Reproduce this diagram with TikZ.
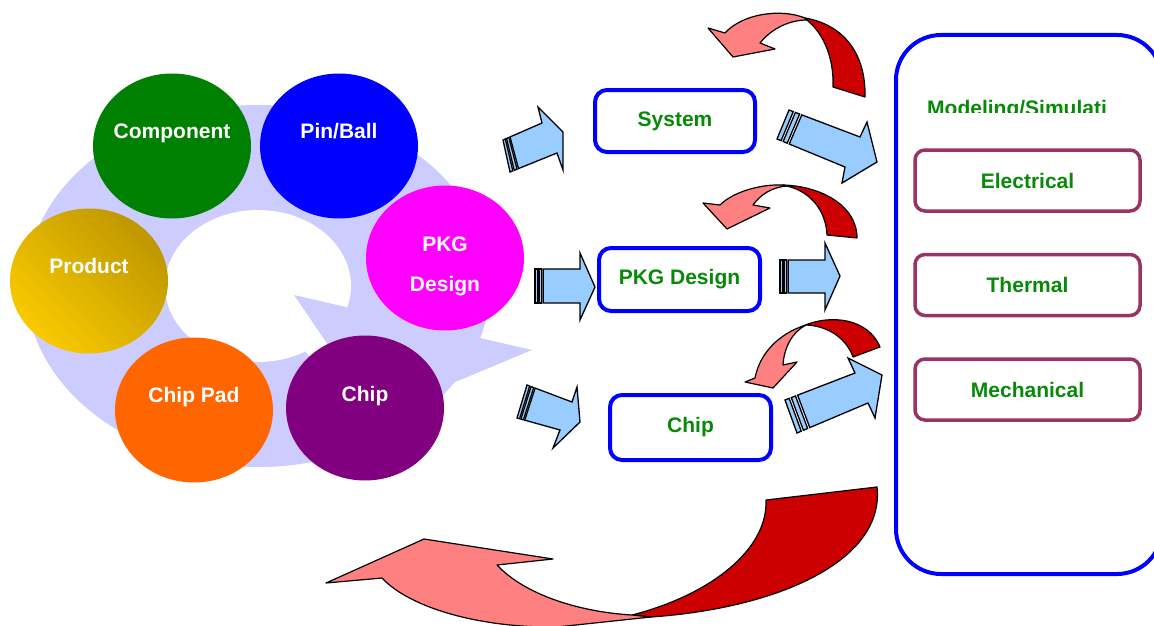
\documentclass[tikz,border=0pt]{standalone}
\usepackage{fontspec}
\setmainfont{Liberation Sans}
\usetikzlibrary{calc,shapes.geometric}

\definecolor{ringfill}{HTML}{CCCCFF}
\definecolor{arrowblue}{HTML}{99CCFF}
\definecolor{curvepink}{HTML}{FF8080}
\definecolor{curvedark}{HTML}{CC0000}
\definecolor{framepurple}{HTML}{993366}
\definecolor{labelgreen}{HTML}{078A07}
\definecolor{compgreen}{HTML}{008000}
\definecolor{pinblue}{HTML}{0000FF}
\definecolor{pkgmagenta}{HTML}{FF00FF}
\definecolor{chippurple}{HTML}{800080}
\definecolor{padorange}{HTML}{FF6600}
\definecolor{prodlight}{HTML}{F9CA00}
\definecolor{proddark}{HTML}{BE9700}

% block arrow with two stripes at its tail; #1 is the prefix of its seven corner coordinates
\newcommand\stripedarrow[1]{%
  \draw[arrowbody] ($(#1tt)!0.18!(#1ht)$) -- (#1ht) -- (#1bt) -- (#1p) -- (#1bb) -- (#1hb)
    -- ($(#1tb)!0.18!(#1hb)$) -- cycle;
  \draw[arrowbody] (#1tt) -- ($(#1tt)!0.06!(#1ht)$) -- ($(#1tb)!0.06!(#1hb)$) -- (#1tb) -- cycle;
  \draw[arrowbody] ($(#1tt)!0.09!(#1ht)$) -- ($(#1tt)!0.15!(#1ht)$)
    -- ($(#1tb)!0.15!(#1hb)$) -- ($(#1tb)!0.09!(#1hb)$) -- cycle;
}

\begin{document}
\begin{tikzpicture}[x=1pt,y=-1pt,
  bubble/.style={ellipse, minimum width=158pt, minimum height=145pt, inner sep=0pt, draw=none},
  bubtext/.style={anchor=base, text=white, font=\fontsize{21}{25}\selectfont\bfseries},
  stagebox/.style={draw=pinblue, line width=4pt, rounded corners=12pt, fill=white,
    text=labelgreen, font=\fontsize{21}{25}\selectfont\bfseries, inner sep=0pt},
  bigbox/.style={draw=pinblue, line width=4pt, rounded corners=45pt, inner sep=0pt,
    minimum width=266pt, minimum height=539pt},
  kindbox/.style={draw=framepurple, line width=3.5pt, rounded corners=10pt,
    minimum width=225pt, minimum height=61pt, inner sep=0pt,
    text=labelgreen, font=\fontsize{21}{25}\selectfont\bfseries},
  arrowbody/.style={fill=arrowblue, draw=black, line width=1.3pt, line join=miter},
  curvefront/.style={fill=curvepink, draw=black, line width=1.2pt, line join=round},
  curveback/.style={fill=curvedark, draw=black, line width=1.2pt, line join=round},
]
\useasboundingbox (0,0) rectangle (1154,626);

% circular arrow behind the bubbles
\fill[ringfill] (258,286) ellipse [x radius=232pt, y radius=181pt];
\fill[white] (258,286) ellipse [x radius=93pt, y radius=76pt];
\fill[white] (294,295) -- (376,415) -- (385,466) -- (306,352) -- cycle;
\fill[ringfill] (294,295) -- (532,350) -- (376,415) -- cycle;

% bubbles
\node[bubble, fill=compgreen] (comp) at (172,146) {};
\node[bubble, fill=pinblue] (pin) at (339,146) {};
\node[bubble, fill=pkgmagenta] (pkg) at (445,258) {};
\node[bubble, top color=proddark, bottom color=prodlight, shading angle=-45] (prod) at (89,281) {};
\node[bubble, fill=padorange] (pad) at (194,410) {};
\node[bubble, fill=chippurple] (chip) at (365,408) {};

\node[bubtext] (comp-t) at (172,138) {Component};
\node[bubtext] (pin-t) at (339,138) {Pin/Ball};
\node[bubtext] (pkg-t1) at (445,251) {PKG};
\node[bubtext] (pkg-t2) at (445,291) {Design};
\node[bubtext] (prod-t) at (89,273) {Product};
\node[bubtext] (pad-t) at (194,402) {Chip Pad};
\node[bubtext] (chip-t) at (365,401) {Chip};

% stage boxes
\node[stagebox, minimum width=160pt, minimum height=62pt] (sys) at (675,121) {System};
\node[stagebox, minimum width=161pt, minimum height=63pt] (pkgd) at (679.5,279.5) {PKG Design};
\node[stagebox, minimum width=161pt, minimum height=65pt] (chipb) at (690.5,427.5) {Chip};

% modeling frame
\node[bigbox] (model) at (1029,304.5) {};
\begin{scope}
  \clip (900,60) rectangle (1150,112);
  \node[anchor=base west, inner sep=0pt, text=labelgreen,
    font=\fontsize{21}{25}\selectfont\bfseries] (model-t) at (927,115) {Modeling/Simulati};
\end{scope}
\node[kindbox] (elec) at (1027.5,180.5) {Electrical};
\node[kindbox] (therm) at (1027.5,285) {Thermal};
\node[kindbox] (mech) at (1027.5,389.5) {Mechanical};

% curved feedback arrows
\draw[curveback] (805,18) .. controls (845,25) and (866,55) .. (865,97) -- (833,87)
  .. controls (834,60) and (825,35) .. (807,20) -- cycle;
\draw[curvefront] (805,18) .. controls (780,8) and (742,14) .. (725,33) -- (708,28) -- (733,57)
  -- (775,49) -- (760,43) .. controls (772,28) and (790,20) .. (807,20) -- cycle;

\draw[curveback] (783,185) .. controls (820,186) and (857,205) .. (857,238) -- (827,235)
  .. controls (826,212) and (812,192) .. (787,186) -- cycle;
\draw[curvefront] (783,185) .. controls (760,184) and (733,192) .. (720,205) -- (703,203)
  -- (727,229) -- (770,208) -- (753,205) .. controls (760,195) and (772,187) .. (787,186) -- cycle;

\draw[curveback] (803,326) .. controls (830,314) and (868,318) .. (880,347) -- (853,357)
  .. controls (847,340) and (830,326) .. (806,325) -- cycle;
\draw[curvefront] (803,326) .. controls (780,334) and (760,352) .. (755,378) -- (745,382)
  -- (773,388) -- (797,362) -- (783,365) .. controls (784,348) and (792,332) .. (806,325) -- cycle;

\draw[curveback] (632,615) .. controls (710,595) and (768,550) .. (766,500) -- (877,487)
  .. controls (885,560) and (780,608) .. (651,617) -- cycle;
\draw[curvefront] (651,617) -- (557,627) .. controls (480,628) and (410,608) .. (382,578)
  -- (326,583) -- (424,539) -- (553,559) -- (497,565)
  .. controls (525,595) and (580,612) .. (632,615) -- cycle;

% striped block arrows
\coordinate (att) at (503,140); \coordinate (atb) at (510,172);
\coordinate (aht) at (542,123); \coordinate (ahb) at (557,153);
\coordinate (abt) at (538,107); \coordinate (ap) at (563,132); \coordinate (abb) at (563,170);
\stripedarrow{a}

\coordinate (btt) at (789,110); \coordinate (btb) at (777,139);
\coordinate (bht) at (860,137); \coordinate (bhb) at (845,167);
\coordinate (bbt) at (867,122); \coordinate (bp) at (877,162); \coordinate (bbb) at (842,183);
\stripedarrow{b}

\coordinate (ctt) at (535,269); \coordinate (ctb) at (535,303);
\coordinate (cht) at (580,269); \coordinate (chb) at (580,303);
\coordinate (cbt) at (580,253); \coordinate (cp) at (595,287); \coordinate (cbb) at (580,320);
\stripedarrow{c}

\coordinate (dtt) at (780,260); \coordinate (dtb) at (780,293);
\coordinate (dht) at (825,260); \coordinate (dhb) at (825,293);
\coordinate (dbt) at (825,243); \coordinate (dp) at (840,276); \coordinate (dbb) at (825,310);
\stripedarrow{d}

\coordinate (ett) at (527,385); \coordinate (etb) at (517,418);
\coordinate (eht) at (572,402); \coordinate (ehb) at (560,430);
\coordinate (ebt) at (577,387); \coordinate (ep) at (580,422); \coordinate (ebb) at (553,448);
\stripedarrow{e}

\coordinate (ftt) at (785,400); \coordinate (ftb) at (797,433);
\coordinate (fht) at (855,373); \coordinate (fhb) at (868,403);
\coordinate (fbt) at (848,358); \coordinate (fp) at (882,375); \coordinate (fbb) at (875,418);
\stripedarrow{f}

\end{tikzpicture}
\end{document}
